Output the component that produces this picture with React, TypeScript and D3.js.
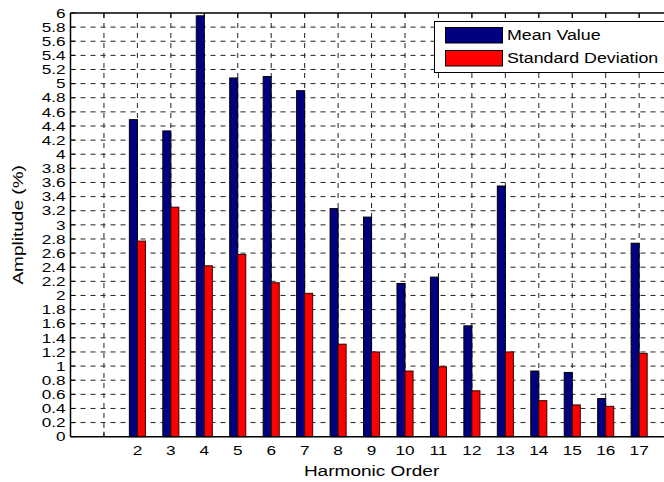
import React from "react";
import * as d3 from "d3";

const harmonics = [2, 3, 4, 5, 6, 7, 8, 9, 10, 11, 12, 13, 14, 15, 16, 17];
const meanValue = [4.49, 4.33, 5.96, 5.08, 5.1, 4.9, 3.23, 3.11, 2.17, 2.26, 1.57, 3.55, 0.93, 0.91, 0.54, 2.74];
const stdDeviation = [2.77, 3.25, 2.42, 2.58, 2.18, 2.03, 1.31, 1.2, 0.93, 0.99, 0.65, 1.2, 0.51, 0.45, 0.43, 1.18];
const xGridCategories = d3.range(1, 18);
const yTicks = d3.range(0, 31).map((i) => +(i * 0.2).toFixed(1));
const seriesNames = ["Mean Value", "Standard Deviation"];
const seriesColors = ["#000080", "#ff0000"];

const W = 664;
const H = 482;
const left = 70.5;
const top = 13;
const bottom = 436.7;
const step = 33.45;
const right = left + 18 * step;
const font = "'Liberation Sans', Arial, sans-serif";
const SX = 1.27; // horizontal stretch of the glyphs

type LabelProps = {
  x: number;
  y: number;
  size: number;
  anchor?: "start" | "middle" | "end";
  rotate?: number;
  children: React.ReactNode;
};

function Label({ x, y, size, anchor = "start", rotate = 0, children }: LabelProps) {
  return (
    <text
      transform={`translate(${x},${y}) rotate(${rotate}) scale(${SX},1)`}
      textAnchor={anchor}
      dy="0.35em"
      fontSize={size}
    >
      {children}
    </text>
  );
}

export default function App() {
  const x = d3.scaleLinear().domain([0, 18]).range([left, right]);
  const y = d3.scaleLinear().domain([0, 6]).range([bottom, top]);
  const barW = step * 0.24;
  const series = [meanValue, stdDeviation];

  return (
    <svg width={W} height={H} style={{ position: "absolute", left: 0, top: 0, background: "#fff" }} fontFamily={font}>
      <defs>
        <clipPath id="plotClip">
          <rect x={0} y={0} width={W} height={H} />
        </clipPath>
      </defs>
      <rect x={0} y={0} width={W} height={H} fill="#fff" />
      <g clipPath="url(#plotClip)">
        {/* grid */}
        {yTicks.slice(1, -1).map((t) => (
          <line key={"gy" + t} x1={left} x2={right} y1={y(t)} y2={y(t)} stroke="#222" strokeWidth={1} strokeDasharray="5,5" />
        ))}
        {xGridCategories.map((c) => (
          <line key={"gx" + c} x1={x(c)} x2={x(c)} y1={top} y2={bottom} stroke="#222" strokeWidth={1} strokeDasharray="5,5" />
        ))}
        {/* ticks */}
        {yTicks.map((t) => (
          <g key={"ty" + t}>
            <line x1={left} x2={left + 5} y1={y(t)} y2={y(t)} stroke="#000" />
            <Label x={left - 5} y={y(t)} size={13.5} anchor="end">
              {String(t)}
            </Label>
          </g>
        ))}
        {xGridCategories.map((c) => (
          <g key={"tx" + c}>
            <line x1={x(c)} x2={x(c)} y1={bottom} y2={bottom - 5} stroke="#000" />
            <line x1={x(c)} x2={x(c)} y1={top} y2={top + 5} stroke="#000" />
          </g>
        ))}
        {harmonics.map((h) => (
          <Label key={"lx" + h} x={x(h)} y={450} size={13.5} anchor="middle">
            {h}
          </Label>
        ))}
        {/* bars */}
        {series.map((vals, si) =>
          vals.map((v, i) => (
            <rect
              key={"b" + si + "-" + i}
              x={x(harmonics[i]) + (si === 0 ? -barW : 0)}
              y={y(v)}
              width={barW}
              height={y(0) - y(v)}
              fill={seriesColors[si]}
              stroke={si === 0 ? "#000" : "#300"}
              strokeWidth={1}
            />
          ))
        )}
        {/* axes box */}
        <line x1={left} x2={right} y1={top} y2={top} stroke="#000" strokeWidth={1.5} />
        <line x1={left} x2={right} y1={bottom} y2={bottom} stroke="#000" strokeWidth={1.5} />
        <line x1={left} x2={left} y1={top} y2={bottom} stroke="#000" strokeWidth={1.5} />
        <line x1={right} x2={right} y1={top} y2={bottom} stroke="#000" strokeWidth={1.5} />
        {/* legend */}
        <g>
          <rect x={434.5} y={21.5} width={240} height={51} fill="#fff" stroke="#000" strokeWidth={1} />
          {seriesNames.map((n, i) => (
            <g key={n}>
              <rect x={445.5} y={27.5 + i * 23} width={57} height={15.5} fill={seriesColors[i]} stroke="#000" />
              <Label x={507} y={35.5 + i * 23} size={14}>
                {n}
              </Label>
            </g>
          ))}
        </g>
      </g>
      <Label x={(left + right) / 2} y={471} size={15} anchor="middle">
        Harmonic Order
      </Label>
      <Label x={18} y={(top + bottom) / 2} size={15} anchor="middle" rotate={-90}>
        Amplitude (%)
      </Label>
    </svg>
  );
}
